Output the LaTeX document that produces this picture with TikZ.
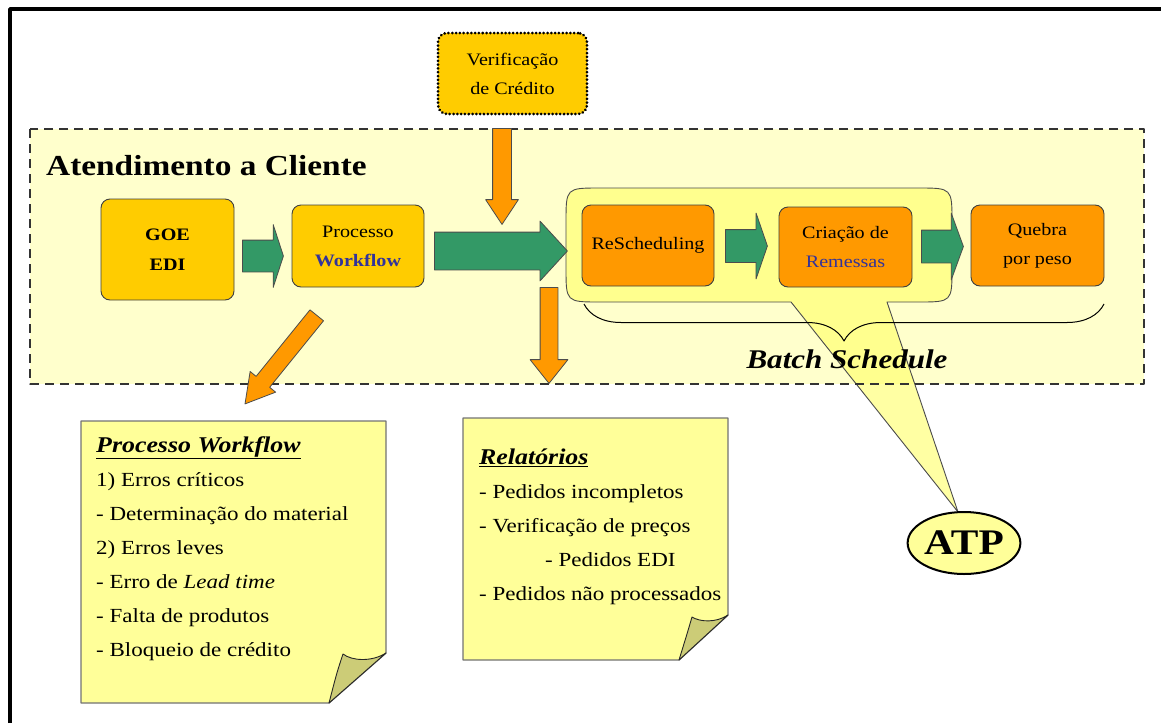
\documentclass[tikz,border=0pt]{standalone}
\usepackage{fontspec}
\setmainfont{Liberation Serif}[FakeStretch=1.15]
\usetikzlibrary{shapes.arrows,shapes.geometric,decorations.pathreplacing}

\definecolor{regionyellow}{HTML}{FFFFCC}
\definecolor{boxgold}{HTML}{FFCC00}
\definecolor{boxorange}{HTML}{FF9900}
\definecolor{arrowgreen}{HTML}{339966}
\definecolor{linkblue}{HTML}{333399}
\definecolor{noteyellow}{HTML}{FFFF99}
\definecolor{foldolive}{HTML}{CCCC77}
\definecolor{bubbleyellow}{HTML}{FFFF66}

\tikzset
{
  process box/.style={draw=black!75,line width=0.9,rounded corners=9,inner sep=0,align=center,
    minimum width=132,minimum height=81,font=\fontsize{17.5}{29}\selectfont},
  gold box/.style={process box,fill=boxgold},
  orange box/.style={process box,fill=boxorange},
  green arrow/.style={single arrow,anchor=tail,draw=black!70,line width=0.8,fill=arrowgreen,inner xsep=0,single arrow head indent=0},
  orange arrow/.style={single arrow,anchor=tail,draw=black!70,line width=0.8,fill=boxorange,inner xsep=0,single arrow head indent=0},
  note/.style={fill=noteyellow,draw=black!55,line width=1.4},
  fold/.style={fill=foldolive,draw=black!85,line width=0.9},
  note text/.style={anchor=north west,inner sep=0,align=left,font=\fontsize{20}{34}\selectfont},
  bubble/.style={fill=bubbleyellow,fill opacity=0.6,draw=black!70,line width=0.9}
}

\begin{document}
\begin{tikzpicture}[x=1pt,y=-1pt,line join=round]
  \useasboundingbox (0,0) rectangle (1161,723);
  % frame
  \draw[line width=3.4] (10,723) -- (10,9) -- (1161,9);
  % atendimento region
  \fill[regionyellow] (30,129) rectangle (1144,384);
  % callout to ATP
  \draw[bubble] (600,188) -- (918,188) .. controls (952,188) .. (952,222) -- (952,268)
     .. controls (952,302) .. (918,302) -- (887,302) -- (958,512) -- (791,302) -- (600,302)
     .. controls (566,302) .. (566,268) -- (566,222) .. controls (566,188) .. (600,188) -- cycle;
  \draw[draw=black!80,line width=2.2,dash pattern=on 9pt off 6pt] (30,129) rectangle (1144,384);
  \node[anchor=base west,inner sep=0,font=\fontsize{29}{29}\selectfont\bfseries] (title) at (46,175) {Atendimento a Cliente};
  \node[ellipse,draw,line width=2,fill=noteyellow,minimum width=106,minimum height=62,inner sep=0,
    font=\fontsize{36}{36}\selectfont\bfseries] (atp) at (964,543) {ATP};
  % batch schedule
  \draw[decorate,decoration={brace,mirror,amplitude=37},line width=1] (584,304) -- (1104,304);
  \node[inner sep=0,font=\fontsize{27}{27}\selectfont\bfseries\itshape] (batch) at (847,359) {Batch Schedule};
  % arrows down to the notes
  \node[orange arrow,minimum height=114,inner ysep=8.3,single arrow head extend=7.7,single arrow tip angle=60,rotate=231] (arrW) at (317,315) {};
  \node[orange arrow,minimum height=96,inner ysep=8.5,single arrow head extend=10,single arrow tip angle=77,rotate=-90] (arrR) at (549,287) {};
  % process boxes
  \node[gold box,minimum width=133,minimum height=101,font=\fontsize{17.5}{30}\selectfont\bfseries] (goe) at (167.5,249.5) {GOE\\EDI};
  \node[gold box,minimum height=82] (wf) at (358,246) {Processo\\\textcolor{linkblue}{\bfseries Workflow}};
  \node[gold box,draw=black,line width=3,dash pattern=on 0.01pt off 3.8pt,line cap=round,
    minimum width=149] (verif) at (512.5,73.5) {Verificação\\de Crédito};
  \node[orange box] (resched) at (648,245.5) {ReScheduling};
  \node[orange box,minimum width=133,minimum height=80] (remessas) at (845.5,247) {Criação de\\\textcolor{linkblue}{Remessas}};
  \node[orange box,minimum width=133] (quebra) at (1037.5,245.5) {Quebra\\por peso};
  % green arrows
  \node[green arrow,minimum height=41,inner ysep=15.5,single arrow head extend=15.5,single arrow tip angle=144] (arrA) at (242,256) {};
  \node[green arrow,minimum height=133,inner ysep=18.5,single arrow head extend=11,single arrow tip angle=95] (arrB) at (434,251) {};
  \node[green arrow,minimum height=42,inner ysep=16,single arrow head extend=16.5,single arrow tip angle=142] (arrC) at (725,246) {};
  \node[green arrow,minimum height=42,inner ysep=16,single arrow head extend=17,single arrow tip angle=140] (arrD) at (921,246.5) {};
  \node[orange arrow,minimum height=96,inner ysep=9,single arrow head extend=7,single arrow tip angle=67,rotate=-90] (arrV) at (502,128) {};
  % notes
  \draw[note] (81,421) -- (386,421) -- (386,653) -- (329,703) -- (81,703) -- cycle;
  \draw[fold] (386,653) .. controls (372,662) and (352,661) .. (343,654) .. controls (337,672) .. (329,703) -- cycle;
  \node[note text] (wftext) at (96,436)
    {{\fontsize{22.5}{34}\selectfont\bfseries\itshape\underline{Processo Workflow}}\\
     1) Erros críticos\\- Determinação do material\\2) Erros leves\\
     - Erro de \textit{Lead time}\\- Falta de produtos\\- Bloqueio de crédito};
  \draw[note] (463,418) -- (728,418) -- (728,615) -- (679,660) -- (463,660) -- cycle;
  \draw[fold] (728,615) .. controls (716,623) and (700,622) .. (692,617) .. controls (687,634) .. (679,660) -- cycle;
  \node[note text] (reltext) at (479,449)
    {{\fontsize{22.5}{34}\selectfont\bfseries\itshape\underline{Relatórios}}\\
     - Pedidos incompletos\\- Verificação de preços\\\hspace*{66pt}- Pedidos EDI\\
     - Pedidos não processados};
\end{tikzpicture}
\end{document}
